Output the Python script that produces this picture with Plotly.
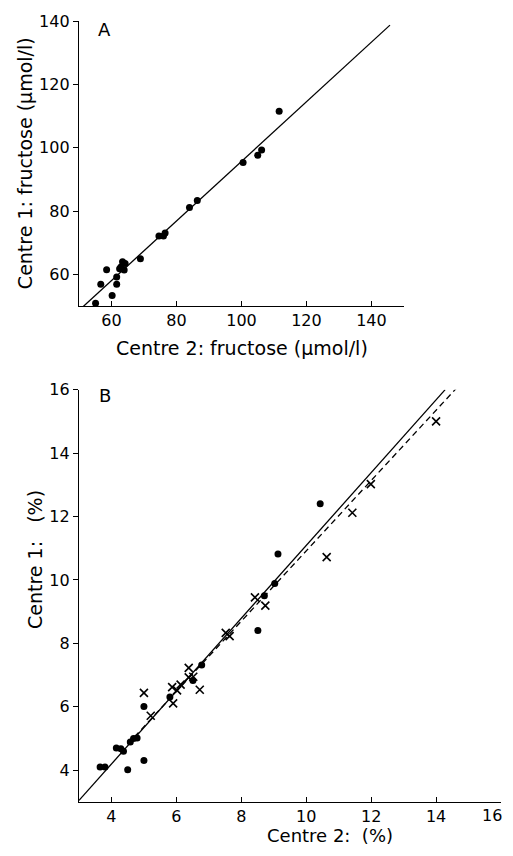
import plotly.graph_objects as go

# ---------------- Panel A: fructose (umol/l) ----------------
a_centre2 = [111.6, 105.0, 106.2, 100.5, 86.4, 84.0, 74.6, 76.0, 76.5, 68.9,
             63.4, 64.2, 62.9, 63.9, 62.5, 58.5, 56.7, 61.6, 61.6, 60.2, 55.1]
a_centre1 = [111.5, 97.6, 99.3, 95.3, 83.3, 81.1, 72.1, 72.1, 73.1, 64.9,
             64.0, 63.4, 62.3, 61.4, 61.8, 61.5, 56.9, 59.2, 56.9, 53.3, 50.9]
a_line_x = [50.6, 145.7]
a_line_y = [49.2, 138.7]

# ---------------- Panel B: percent ----------------
b_dot_centre2 = [3.65, 3.80, 4.15, 4.29, 4.37, 4.50, 4.58, 4.68, 4.79, 5.00, 5.00,
                 5.80, 6.51, 6.78, 8.51, 8.71, 9.03, 9.13, 10.43]
b_dot_centre1 = [4.10, 4.10, 4.70, 4.68, 4.60, 4.02, 4.89, 5.00, 5.02, 4.31, 6.01,
                 6.31, 6.83, 7.32, 8.41, 9.50, 9.89, 10.82, 12.40]
b_cross_centre2 = [5.00, 5.21, 5.87, 5.90, 6.02, 6.13, 6.38, 6.38, 6.52, 6.72,
                   7.52, 7.64, 8.42, 8.74, 10.63, 11.42, 11.99, 14.00]
b_cross_centre1 = [6.44, 5.72, 6.62, 6.11, 6.52, 6.70, 7.23, 6.93, 6.95, 6.54,
                   8.33, 8.23, 9.45, 9.19, 10.72, 12.12, 13.02, 15.00]
b_solid_x = [3.0, 14.28]
b_solid_y = [3.05, 16.0]
b_dash_x = [4.5, 14.64]
b_dash_y = [4.82, 16.06]

a_ticks = [60, 80, 100, 120, 140]
b_ticks = [4, 6, 8, 10, 12, 14, 16]
# last x label of panel B sits at the page edge; drawn separately so it stays visible
b_xticktext = [str(t) for t in b_ticks[:-1]] + [""]

FONT = "DejaVu Sans"
fig = go.Figure()

fig.add_trace(go.Scatter(x=a_line_x, y=a_line_y, mode="lines",
                         line=dict(color="black", width=1.3),
                         xaxis="x", yaxis="y", showlegend=False))
fig.add_trace(go.Scatter(x=a_centre2, y=a_centre1, mode="markers",
                         marker=dict(color="black", size=7),
                         xaxis="x", yaxis="y", showlegend=False, cliponaxis=False))

fig.add_trace(go.Scatter(x=b_solid_x, y=b_solid_y, mode="lines",
                         line=dict(color="black", width=1.3),
                         xaxis="x2", yaxis="y2", showlegend=False))
fig.add_trace(go.Scatter(x=b_dash_x, y=b_dash_y, mode="lines",
                         line=dict(color="black", width=1.3, dash="6px,4px"),
                         xaxis="x2", yaxis="y2", showlegend=False))
fig.add_trace(go.Scatter(x=b_dot_centre2, y=b_dot_centre1, mode="markers",
                         marker=dict(color="black", size=7),
                         xaxis="x2", yaxis="y2", showlegend=False))
fig.add_trace(go.Scatter(x=b_cross_centre2, y=b_cross_centre1, mode="markers",
                         marker=dict(symbol="x-thin", size=8,
                                     line=dict(color="black", width=1.6)),
                         xaxis="x2", yaxis="y2", showlegend=False))

axis_common = dict(showgrid=False, zeroline=False, showline=True,
                   linecolor="black", linewidth=1.3, tickcolor="black",
                   ticklen=5, tickwidth=1.2,
                   tickfont=dict(family=FONT, size=16, color="black"))

# figure is placed by the page at (8, 8); 497 x 840 fills the 513 x 856 window
fig.update_layout(
    width=497, height=840, autosize=False,
    margin=dict(l=71, r=4, t=8, b=46),
    paper_bgcolor="white", plot_bgcolor="white",
    xaxis=dict(domain=[0, 0.770], range=[50, 150], tickvals=a_ticks,
               ticks="inside", anchor="y", **axis_common),
    yaxis=dict(domain=[0.635, 1.0], range=[50, 140], tickvals=a_ticks,
               ticks="outside", anchor="x", **axis_common),
    xaxis2=dict(domain=[0, 1.0], range=[3, 16], tickvals=b_ticks,
                ticktext=b_xticktext,
                ticks="inside", anchor="y2", **axis_common),
    yaxis2=dict(domain=[0, 0.528], range=[3, 16], tickvals=b_ticks,
                ticks="outside", anchor="x2", **axis_common),
)

tfont = dict(family=FONT, size=19, color="black")
anns = [
    dict(text="A", x=0.0616, y=0.9885, font=dict(family=FONT, size=18, color="black")),
    dict(text="B", x=0.0616, y=0.520, font=dict(family=FONT, size=18, color="black")),
    dict(text="Centre 1: fructose (μmol/l)", x=-0.128, y=0.818, textangle=-90, font=tfont),
    dict(text="Centre 2: fructose (μmol/l)", x=0.386, y=0.581, font=tfont),
    dict(text="Centre 1:   (%)", x=-0.104, y=0.310, textangle=-90, font=tfont),
    dict(text="Centre 2:  (%)", x=0.595, y=-0.0433,
         font=dict(family=FONT, size=18, color="black")),
]
for a in anns:
    fig.add_annotation(xref="paper", yref="paper", showarrow=False,
                       xanchor="center", yanchor="middle", **a)

fig.add_annotation(text=str(b_ticks[-1]), xref="x2", x=b_ticks[-1], yref="paper", y=0,
                   xanchor="right", yanchor="top", yshift=-2, xshift=3, showarrow=False,
                   font=dict(family=FONT, size=16, color="black"))

fig.write_html("out.html", config={"displayModeBar": False})
